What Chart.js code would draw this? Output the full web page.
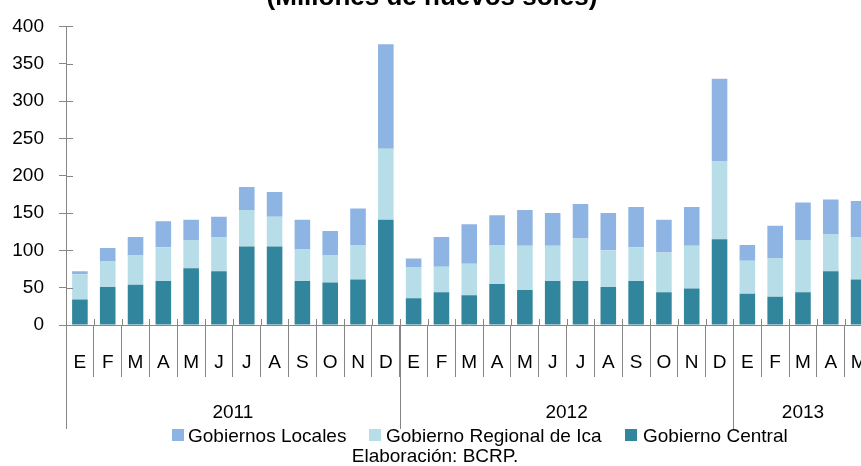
<!DOCTYPE html>
<html>
<head>
<meta charset="utf-8">
<script src="https://cdn.jsdelivr.net/npm/chart.js@4"></script>
<style>
  html, body { margin: 0; padding: 0; background: #fff; overflow: hidden; width: 861px; height: 466px; }
  #wrap { position: absolute; left: 0; top: 0; width: 875px; height: 466px; }
</style>
</head>
<body>
<div id="wrap"><canvas id="c" width="875" height="466"></canvas></div>
<script>
const months = ['E','F','M','A','M','J','J','A','S','O','N','D',
                'E','F','M','A','M','J','J','A','S','O','N','D',
                'E','F','M','A','M'];
const years = ['2011', '2012', '2013'];
const monthsPerYear = [12, 12, 5];

const gobiernoCentral = [34,51,54,59,76,72,105,105,59,57,61,141,
                         36,44,40,55,47,59,59,51,59,44,49,115,
                         42,38,44,72,61];
const gobiernoRegional = [34,34,39,45,38,46,49,40,42,36,46,95,
                          41,34,42,52,59,47,57,49,45,53,57,104,
                          44,51,70,50,57];
const gobiernosLocales = [4,18,25,35,27,27,31,33,40,33,49,140,
                          12,40,53,40,48,44,46,50,54,44,52,111,
                          21,44,50,46,48];
const yTicks = [0, 50, 100, 150, 200, 250, 300, 350, 400];

const titleText = '(Millones de nuevos soles)';
const sourceText = 'Elaboración: BCRP.';
const FONT = "'Liberation Sans', Arial, sans-serif";
const GRAY = '#868686';
const C_LOC = '#8EB4E3', C_REG = '#B7DEE8', C_CEN = '#31859C';

const legendItems = [
  { label: 'Gobiernos Locales', color: C_LOC, box: 172, text: 188 },
  { label: 'Gobierno Regional de Ica', color: C_REG, box: 369, text: 386 },
  { label: 'Gobierno Central', color: C_CEN, box: 625, text: 643 }
];

const overlay = {
  id: 'overlay',
  afterDraw(chart) {
    const { ctx, chartArea, scales: { x, y } } = chart;
    const step = x.getPixelForValue(1) - x.getPixelForValue(0);
    ctx.save();
    ctx.strokeStyle = GRAY;
    ctx.lineWidth = 1;
    // inner halves of crossing tick marks
    ctx.beginPath();
    yTicks.forEach(v => {
      const py = Math.round(y.getPixelForValue(v)) + 0.5;
      ctx.moveTo(chartArea.left, py);
      ctx.lineTo(chartArea.left + 7, py);
    });
    for (let i = 0; i <= months.length; i++) {
      const px = Math.round(x.getPixelForValue(i) - step / 2) + 0.5;
      ctx.moveTo(px, chartArea.bottom - 6);
      ctx.lineTo(px, chartArea.bottom);
    }
    ctx.stroke();
    // year separators and labels
    let start = 0;
    ctx.font = '19px ' + FONT;
    ctx.fillStyle = '#000';
    ctx.textAlign = 'center';
    ctx.textBaseline = 'middle';
    years.forEach((yr, i) => {
      const n = monthsPerYear[i];
      const left = x.getPixelForValue(start) - step / 2;
      const right = x.getPixelForValue(start + n - 1) + step / 2;
      ctx.beginPath();
      const lx = Math.round(left) + 0.5;
      ctx.moveTo(lx, chartArea.bottom);
      ctx.lineTo(lx, 429);
      ctx.stroke();
      ctx.fillText(yr, (left + right) / 2, 413);
      start += n;
    });
    // legend
    legendItems.forEach(it => {
      ctx.fillStyle = it.color;
      ctx.fillRect(it.box, 429, 12, 12);
      ctx.fillStyle = '#000';
      ctx.textAlign = 'left';
      ctx.fillText(it.label, it.text, 437);
    });
    // source
    ctx.textAlign = 'center';
    ctx.fillText(sourceText, 435, 457);
    // title (cut off at top)
    ctx.font = 'bold 26px ' + FONT;
    ctx.textBaseline = 'alphabetic';
    ctx.fillText(titleText, 432, 5);
    ctx.restore();
  }
};

new Chart(document.getElementById('c'), {
  type: 'bar',
  data: {
    labels: months,
    datasets: [
      { label: 'Gobierno Central', data: gobiernoCentral, backgroundColor: C_CEN },
      { label: 'Gobierno Regional de Ica', data: gobiernoRegional, backgroundColor: C_REG },
      { label: 'Gobiernos Locales', data: gobiernosLocales, backgroundColor: C_LOC }
    ]
  },
  options: {
    responsive: false,
    animation: false,
    devicePixelRatio: 1,
    layout: { padding: { left: 0, right: 2.5, top: 23.3, bottom: 0 } },
    datasets: { bar: { barPercentage: 0.56, categoryPercentage: 1.0, borderWidth: 0 } },
    plugins: { legend: { display: false }, title: { display: false }, tooltip: { enabled: false } },
    scales: {
      x: {
        stacked: true,
        offset: true,
        grid: { display: true, drawOnChartArea: false, drawTicks: true, tickLength: 52, color: GRAY, offset: true },
        border: { display: true, color: GRAY, width: 1 },
        ticks: { font: { family: FONT, size: 19 }, color: '#000', padding: -26, maxRotation: 0, autoSkip: false },
        afterFit(scale) { scale.height = 466 - 325; }
      },
      y: {
        stacked: true,
        min: 0,
        max: 400,
        grid: { display: true, drawOnChartArea: false, drawTicks: true, tickLength: 7, color: GRAY },
        border: { display: true, color: GRAY, width: 1 },
        ticks: { stepSize: 50, font: { family: FONT, size: 19 }, color: '#000', padding: 15 },
        afterFit(scale) { scale.width = 66; }
      }
    }
  },
  plugins: [overlay]
});
</script>
</body>
</html>
